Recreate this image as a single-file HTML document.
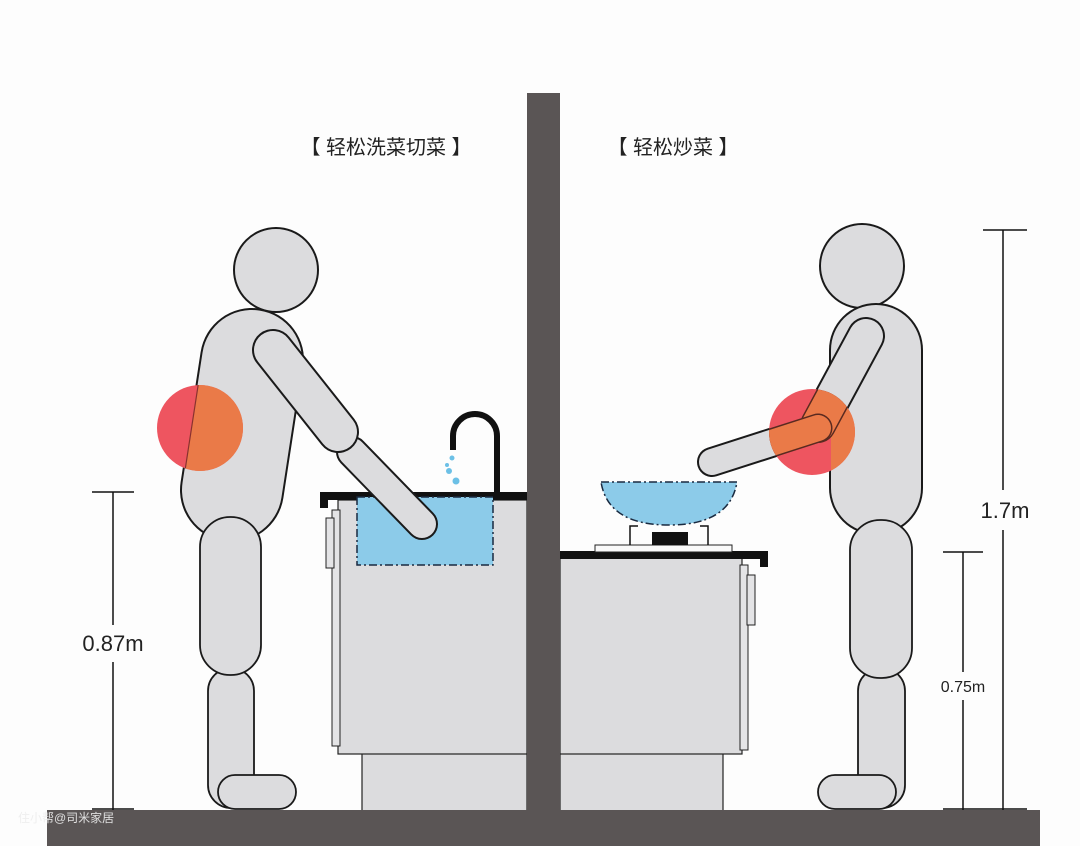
<!DOCTYPE html>
<html><head><meta charset="utf-8"><style>
html,body{margin:0;padding:0;background:#fdfdfd;}
svg{display:block}
text{font-family:"Liberation Sans","Noto Sans CJK SC",sans-serif;}
</style></head><body>
<svg width="1080" height="846" viewBox="0 0 1080 846" xmlns="http://www.w3.org/2000/svg">
<defs>
<clipPath id="cl"><circle cx="200" cy="428" r="43"/></clipPath>
<clipPath id="cr"><circle cx="812" cy="432" r="43"/></clipPath>
</defs>
<rect width="1080" height="846" fill="#fdfdfd"/>
<text x="386" y="154" font-size="20" text-anchor="middle" fill="#222">【 轻松洗菜切菜 】</text>
<text x="673" y="154" font-size="20" text-anchor="middle" fill="#222">【 轻松炒菜 】</text>

<!-- left cabinet -->
<rect x="362" y="752" width="165" height="60" fill="#dcdcde" stroke="#222" stroke-width="1.2"/>
<rect x="338" y="500" width="189" height="254" fill="#dcdcde" stroke="#222" stroke-width="1.2"/>
<rect x="332" y="510" width="8" height="236" fill="#e4e4e6" stroke="#222" stroke-width="1"/>
<rect x="326" y="518" width="8" height="50" fill="#e4e4e6" stroke="#222" stroke-width="1"/>
<rect x="320" y="492" width="207" height="8" fill="#111"/>
<rect x="320" y="492" width="8" height="16" fill="#111"/>
<rect x="357" y="497" width="136" height="68" fill="#8ccbe9" stroke="#1a2a40" stroke-width="1.5" stroke-dasharray="8 3 2 3"/>
<path d="M453,450 V436 A22,22 0 0 1 497,436 V494" fill="none" stroke="#111" stroke-width="6"/>
<g fill="#6cc0e6"><circle cx="452" cy="458" r="2.5"/><circle cx="449" cy="471" r="3"/><circle cx="456" cy="481" r="3.5"/><circle cx="447" cy="465" r="2"/></g>

<!-- right cabinet -->
<rect x="560" y="752" width="163" height="60" fill="#dcdcde" stroke="#222" stroke-width="1.2"/>
<rect x="560" y="556" width="182" height="198" fill="#dcdcde" stroke="#222" stroke-width="1.2"/>
<rect x="740" y="565" width="8" height="185" fill="#e4e4e6" stroke="#222" stroke-width="1"/>
<rect x="747" y="575" width="8" height="50" fill="#e4e4e6" stroke="#222" stroke-width="1"/>
<rect x="560" y="551" width="208" height="8" fill="#111"/>
<rect x="760" y="551" width="8" height="16" fill="#111"/>
<rect x="595" y="545" width="137" height="7" fill="#fafafa" stroke="#222" stroke-width="1"/>
<path d="M630,545 V526 H638 M708,545 V526 H700" fill="none" stroke="#111" stroke-width="1.5"/>
<rect x="652" y="532" width="36" height="13" fill="#111"/>
<path d="M601,482 H737 Q730,525 669,525 Q608,525 601,482 Z" fill="#8ccbe9" stroke="#1a2a40" stroke-width="1.5" stroke-dasharray="8 3 2 3"/>

<rect x="527" y="93" width="33" height="720" fill="#5a5555"/>
<rect x="47" y="810" width="993" height="36" fill="#5a5555"/>

<!-- left person -->
<g stroke-linecap="round" fill="none">
<circle cx="276" cy="270" r="42" fill="#dcdcde" stroke="#1a1a1a" stroke-width="2"/>
<line x1="252" y1="360" x2="232" y2="490" stroke="#1a1a1a" stroke-width="104"/>
<line x1="252" y1="360" x2="232" y2="490" stroke="#dcdcde" stroke-width="100"/>
<rect x="208" y="668" width="46" height="140" rx="23" fill="#dcdcde" stroke="#1a1a1a" stroke-width="1.8"/>
<rect x="200" y="517" width="61" height="158" rx="30" fill="#dcdcde" stroke="#1a1a1a" stroke-width="1.8"/>
<rect x="218" y="775" width="78" height="34" rx="17" fill="#dcdcde" stroke="#1a1a1a" stroke-width="1.8"/>
<line x1="352" y1="452" x2="422" y2="524" stroke="#1a1a1a" stroke-width="32"/>
<line x1="352" y1="452" x2="422" y2="524" stroke="#dcdcde" stroke-width="28"/>
<line x1="273" y1="350" x2="338" y2="432" stroke="#1a1a1a" stroke-width="42"/>
<line x1="273" y1="350" x2="338" y2="432" stroke="#dcdcde" stroke-width="38"/>
</g>
<circle cx="200" cy="428" r="43" fill="#ee5560"/>
<g clip-path="url(#cl)" stroke-linecap="round">
<line x1="252" y1="360" x2="232" y2="490" stroke="#ea7a48" stroke-width="100"/>
<line x1="252" y1="360" x2="232" y2="490" stroke="#8a3030" stroke-width="1.2" transform="translate(-50,0)"/>
</g>

<!-- right person -->
<g stroke-linecap="round" fill="none">
<circle cx="862" cy="266" r="42" fill="#dcdcde" stroke="#1a1a1a" stroke-width="2"/>
<line x1="876" y1="350" x2="876" y2="488" stroke="#1a1a1a" stroke-width="94"/>
<line x1="876" y1="350" x2="876" y2="488" stroke="#dcdcde" stroke-width="90"/>
<rect x="858" y="668" width="47" height="140" rx="23" fill="#dcdcde" stroke="#1a1a1a" stroke-width="1.8"/>
<rect x="850" y="520" width="62" height="158" rx="30" fill="#dcdcde" stroke="#1a1a1a" stroke-width="1.8"/>
<rect x="818" y="775" width="78" height="34" rx="17" fill="#dcdcde" stroke="#1a1a1a" stroke-width="1.8"/>
<line x1="866" y1="336" x2="818" y2="425" stroke="#1a1a1a" stroke-width="38"/>
<line x1="866" y1="336" x2="818" y2="425" stroke="#dcdcde" stroke-width="34"/>
<line x1="818" y1="428" x2="712" y2="462" stroke="#1a1a1a" stroke-width="30"/>
<line x1="818" y1="428" x2="712" y2="462" stroke="#dcdcde" stroke-width="26"/>
</g>
<circle cx="812" cy="432" r="43" fill="#ee5560"/>
<g clip-path="url(#cr)" stroke-linecap="round" fill="none">
<line x1="876" y1="350" x2="876" y2="488" stroke="#ea7a48" stroke-width="90"/>
<line x1="866" y1="336" x2="818" y2="425" stroke="#5a2a20" stroke-width="36"/>
<line x1="866" y1="336" x2="818" y2="425" stroke="#ea7a48" stroke-width="33"/>
<line x1="818" y1="428" x2="712" y2="462" stroke="#5a2a20" stroke-width="29"/>
<line x1="818" y1="428" x2="712" y2="462" stroke="#ea7a48" stroke-width="26"/>
</g>

<g stroke="#111" stroke-width="1.5">
<line x1="113" y1="492" x2="113" y2="625"/><line x1="113" y1="662" x2="113" y2="810"/>
<line x1="92" y1="492" x2="134" y2="492"/><line x1="92" y1="809" x2="134" y2="809"/>
<line x1="1003" y1="230" x2="1003" y2="490"/><line x1="1003" y1="530" x2="1003" y2="810"/>
<line x1="983" y1="230" x2="1027" y2="230"/>
<line x1="963" y1="552" x2="963" y2="672"/><line x1="963" y1="700" x2="963" y2="810"/>
<line x1="943" y1="552" x2="983" y2="552"/>
<line x1="943" y1="809" x2="1027" y2="809"/>
</g>
<text x="113" y="651" font-size="22" text-anchor="middle" fill="#222">0.87m</text>
<text x="1005" y="518" font-size="22" text-anchor="middle" fill="#222">1.7m</text>
<text x="963" y="692" font-size="16" text-anchor="middle" fill="#222">0.75m</text>
<text x="18" y="822" font-size="12" fill="#eee" opacity="0.9">住小帮@司米家居</text>
</svg>
</body></html>
